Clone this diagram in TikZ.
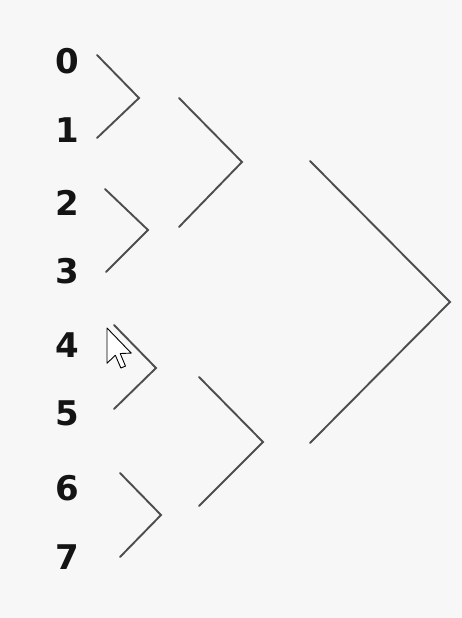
\documentclass[tikz,border=0pt]{standalone}
\usepackage{fontspec}
\setmainfont{DejaVu Sans}
\definecolor{bg}{HTML}{F7F7F7}
\definecolor{ln}{HTML}{4D4D4D}
\begin{document}
\begin{tikzpicture}[x=1pt,y=-1pt,
  lab/.style={font=\fontsize{34}{34}\selectfont\bfseries, text=black!92, inner sep=0pt, anchor=center},
  brk/.style={draw=ln, line width=1.9pt, line cap=round, line join=miter}]
\useasboundingbox (0,0) rectangle (462,618);
\fill[bg] (0,0) rectangle (462,618);
% labels
\foreach \i/\y in {0/61,1/130,2/203,3/271,4/345,5/413,6/488,7/557}
  \node[lab] (l\i) at (67,\y) {\i};
% bracket coordinates
\coordinate (a0) at (97,55);  \coordinate (a1) at (139,98);  \coordinate (a2) at (97,138);
\coordinate (b0) at (105,189); \coordinate (b1) at (148,230); \coordinate (b2) at (106,272);
\coordinate (c0) at (179,98);  \coordinate (c1) at (242,162); \coordinate (c2) at (179,227);
\coordinate (d0) at (114,325); \coordinate (d1) at (156,368); \coordinate (d2) at (114,409);
\coordinate (e0) at (120,473); \coordinate (e1) at (161,515); \coordinate (e2) at (120,557);
\coordinate (f0) at (199,377); \coordinate (f1) at (263,442); \coordinate (f2) at (199,506);
\coordinate (g0) at (310,161); \coordinate (g1) at (450,302); \coordinate (g2) at (310,443);
\foreach \k in {a,b,c,d,e,f,g}
  \draw[brk] (\k0) -- (\k1) -- (\k2);
% mouse cursor
\coordinate (m0) at (107,328);
\draw[black, fill=white, line width=0.9pt, line join=round, shift={(m0)}, scale=2.2]
  (0,0) -- (0,16) -- (3.8,12.4) -- (6.3,18.2) -- (8.4,17.3) -- (6,11.6) -- (11,11.4) -- cycle;
\end{tikzpicture}
\end{document}
